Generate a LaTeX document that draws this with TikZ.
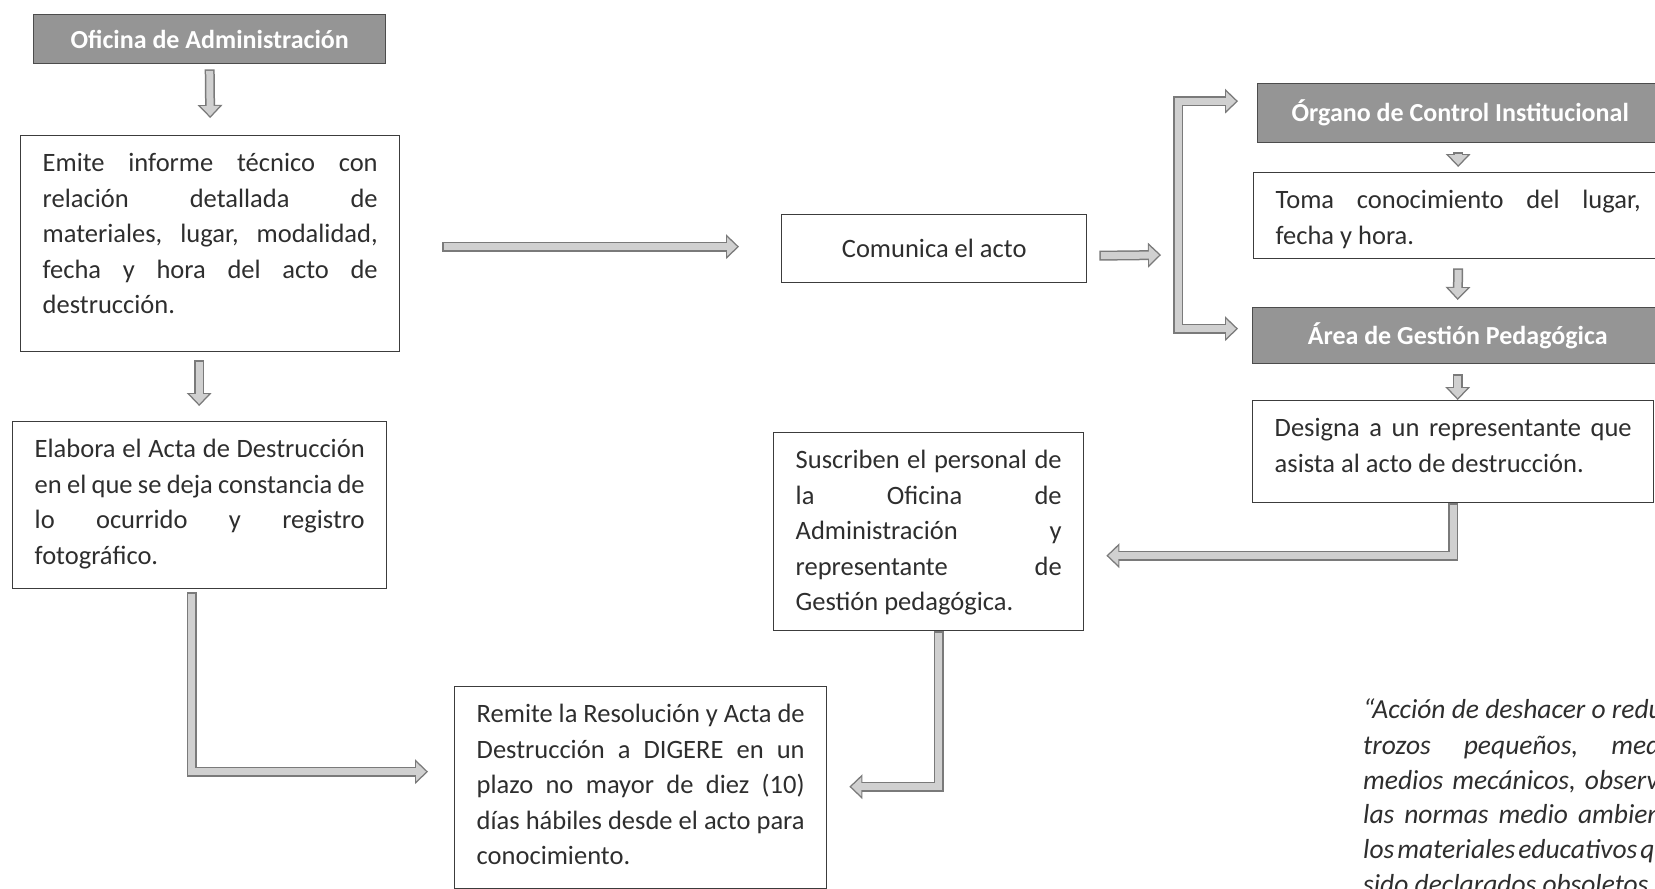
\documentclass[tikz,border=0pt]{standalone}
\usepackage{fontspec}
\setmainfont{Carlito}
\usetikzlibrary{arrows.meta}
\definecolor{cabecera}{HTML}{959595}
\definecolor{borde}{HTML}{3C3C3C}
\definecolor{banda}{HTML}{D0D0D0}
\definecolor{bandaborde}{HTML}{7A7A7A}
\definecolor{tinta}{HTML}{2E2E2E}
\def\texto{\fontsize{26.5}{35.5}\selectfont}
\def\jl#1{\makebox[\linewidth][s]{#1}\\}
\tikzset{
  caja/.style={draw=borde, line width=1.4pt, anchor=north west, inner xsep=22pt, inner ysep=11pt, text=tinta, font=\texto},
  titulo/.style={draw=black!70, fill=cabecera, line width=1.4pt, anchor=north west, inner sep=0pt, text=white, font=\fontsize{26}{30}\selectfont\bfseries},
  cita/.style={anchor=base west, inner sep=0pt, text=tinta, font=\fontsize{27.5}{35}\selectfont\itshape},
  flecha/.style={draw=bandaborde, line width=10pt, -{Triangle[length=13pt,width=25pt,line width=0pt]},
    postaction={draw=banda, line width=7pt, -{Triangle[length=10pt,width=19pt,line width=0pt]}, shorten >=2pt, shorten <=1.5pt}},
  flechados/.style={draw=bandaborde, line width=10pt, {Triangle[length=13pt,width=25pt,line width=0pt]}-{Triangle[length=13pt,width=25pt,line width=0pt]},
    postaction={draw=banda, line width=7pt, {Triangle[length=10pt,width=19pt,line width=0pt]}-{Triangle[length=10pt,width=19pt,line width=0pt]}, shorten >=2pt, shorten <=2pt}},
}

\begin{document}
\begin{tikzpicture}[x=1pt, y=-1pt]
		%%%%% START %%%%%
		\useasboundingbox (0,0) rectangle (1655,889);
		\clip (0,0) rectangle (1655,889);
		
		% columna izquierda
		\node[titulo, minimum width=352pt, minimum height=49pt] (ofi) at (33,14) {Oficina de Administración};
		\node[caja] (emite) at (20,135) {\parbox[t][194pt][t]{335pt}{\strut\jl{Emite informe técnico con}\jl{relación detallada de}\jl{materiales, lugar, modalidad,}\jl{fecha y hora del acto de}destrucción.}};
		\node[caja] (elabora) at (12,421) {\parbox[t][145pt][t]{330pt}{\strut\jl{Elabora el Acta de Destrucción}\jl{en el que se deja constancia de}\jl{lo ocurrido y registro}fotográfico.}};
		
		% centro
		\node[caja, minimum width=305pt, minimum height=68pt, inner sep=0pt] (comunica) at (781,214) {Comunica el acto};
		\node[caja] (suscriben) at (773,432) {\parbox[t][176pt][t]{266pt}{\strut\jl{Suscriben el personal de}\jl{la Oficina de}\jl{Administración y}\jl{representante de}Gestión pedagógica.}};
		\node[caja] (remite) at (454,686) {\parbox[t][180pt][t]{328pt}{\strut\jl{Remite la Resolución y Acta de}\jl{Destrucción a DIGERE en un}\jl{plazo no mayor de diez (10)}\jl{días hábiles desde el acto para}conocimiento.}};
		
		% columna derecha
		\node[titulo, minimum width=405pt, minimum height=59pt] (organo) at (1257,83) {Órgano de Control Institucional};
		\node[caja] (toma) at (1253,172) {\parbox[t][64pt][t]{365pt}{\strut\jl{Toma conocimiento del lugar,}fecha y hora.}};
		\node[titulo, minimum width=410pt, minimum height=56pt] (area) at (1252,307) {Área de Gestión Pedagógica};
		\node[caja] (designa) at (1252,400) {\parbox[t][80pt][t]{357pt}{\strut\jl{Designa a un representante que}asista al acto de destrucción.}};
		
		% cita
		\node[cita] (cita1) at (1363,718) {“Acción de deshacer o reducir};
		\node[cita] (cita2) at (1363,754) {\spaceskip=33pt trozos pequeños, mediante};
		\node[cita] (cita3) at (1363,789) {\spaceskip=9pt medios mecánicos, observando};
		\node[cita] (cita4) at (1363,823) {\spaceskip=10pt las normas medio ambientales,};
		\node[cita] (cita5) at (1363,858) {\spaceskip=3pt los materiales educativos que han};
		\node[cita] (cita6) at (1363,893) {sido declarados obsoletos y};
		
		\coordinate (barra) at (1178,255);
		
		% flechas
		\draw[flecha] ([yshift=-5pt]ofi.south) -- ([yshift=17pt]emite.north);
		\draw[flecha] ([xshift=-11pt,yshift=-8pt]emite.south) -- ([xshift=-0.5pt,yshift=15pt]elabora.north);
		\draw[flecha] ([xshift=-8pt,yshift=-3pt]elabora.south) |- ([xshift=-26pt,yshift=16pt]remite.west);
		\draw[flecha] ([xshift=42pt,yshift=-3pt]emite.east) -- ([xshift=-42pt,yshift=2pt]comunica.west);
		\draw[flecha] ([xshift=12pt,yshift=-7pt]comunica.east) -- ([xshift=-17pt]barra);
		\draw[flechados] ([xshift=-19pt,yshift=12pt]organo.west) -| (barra) |- ([xshift=-14pt,yshift=7pt]area.west);
		\draw[flecha] ([xshift=-2pt,yshift=-9pt]organo.south) -- ([yshift=5pt]toma.north);
		\draw[flecha] ([yshift=-9pt]toma.south) -- ([yshift=7pt]area.north);
		\draw[flecha] ([yshift=-10pt]area.south) -- (area.south |- designa.north);
		\draw[flecha] (designa.south) |- ([xshift=22pt,yshift=-24pt]suscriben.east);
		\draw[flecha] ([xshift=10pt]suscriben.south) |- ([xshift=22pt,yshift=1pt]remite.east);
		
		%%%%% END %%%%%
\end{tikzpicture}
\end{document}
